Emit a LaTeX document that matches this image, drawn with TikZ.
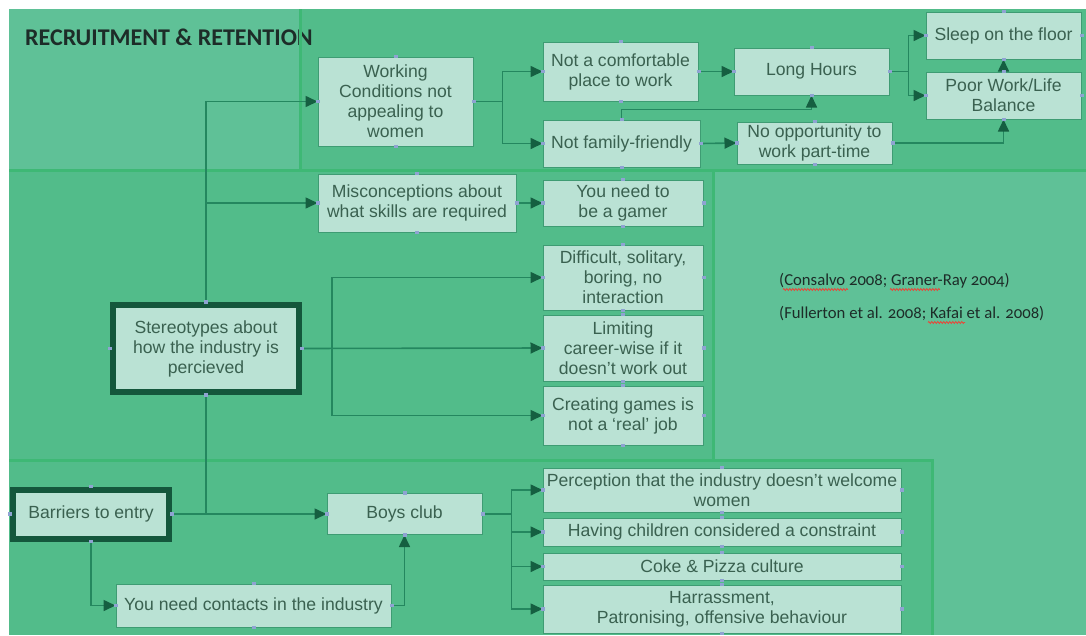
\documentclass[tikz,border=0pt]{standalone}
\usepackage{fontspec}
\setmainfont{Liberation Sans}
\newfontfamily\boxfont{Liberation Sans}
\newfontfamily\calfont[Numbers=OldStyle]{Carlito}
\usetikzlibrary{arrows.meta,decorations.pathmorphing,calc}

\definecolor{bglight}{HTML}{5FC197}
\definecolor{bgpanel}{HTML}{52BC8A}
\definecolor{panelline}{HTML}{3EB875}
\definecolor{boxfill}{HTML}{BAE2D4}
\definecolor{boxline}{HTML}{3E9C73}
\definecolor{boxtext}{HTML}{3A6150}
\definecolor{wirecol}{HTML}{24875F}
\definecolor{tipcol}{HTML}{155F41}
\definecolor{heavy}{HTML}{14573C}
\definecolor{handlecol}{HTML}{8FA3D2}
\definecolor{ink}{HTML}{1D2C28}
\definecolor{squigcol}{HTML}{E8473A}

\tikzset{
  box/.style={draw=boxline, fill=boxfill, line width=1pt, text=boxtext,
    align=center, font=\boxfont\fontsize{17.6}{20}\selectfont, inner sep=1pt},
  keybox/.style={box, draw=heavy, line width=6pt},
  link/.style={draw=wirecol, line width=1.6pt},
  arr/.style={link, -{Triangle[length=12pt,width=11pt,color=tipcol]}},
  handle/.style={fill=handlecol, inner sep=0pt, minimum width=4pt, minimum height=3.5pt},
  squig/.style={draw=squigcol, line width=0.8pt, decorate,
    decoration={zigzag, segment length=3pt, amplitude=1pt}},
  panelborder/.style={draw=panelline, line width=3pt},
  citation/.style={anchor=base west, font=\calfont\fontsize{16.7}{20}\selectfont,
    text=ink, inner sep=0pt}
}

\begin{document}
\begin{tikzpicture}[x=1pt, y=-1pt]
\useasboundingbox (0,0) rectangle (1086,635);

% background and panels
\fill[white] (0,0) rectangle (1086,635);
\fill[bglight] (9,9) rectangle (1086,635);
\fill[bgpanel] (300,9) rectangle (1086,170);
\fill[bgpanel] (9,170) rectangle (713,460);
\fill[bgpanel] (9,460) rectangle (932,635);

% heading
\node[anchor=base west, font=\calfont\bfseries\fontsize{24}{28}\selectfont,
  text=ink, inner sep=0pt] (title) at (25,45) {RECRUITMENT \& RETENTION};

\path[panelborder] (300,9) -- (300,170) (9,170) -- (1086,170)
  (713,170) -- (713,460) (9,460) -- (932,460) -- (932,635);

% working conditions
\node[box, minimum width=155pt, minimum height=89pt] (wc) at (395.5,101.5)
  {Working\\Conditions not\\appealing to\\women};
\node[box, minimum width=155pt, minimum height=59pt] (nc) at (620.5,71.5)
  {Not a comfortable\\place to work};
\node[box, minimum width=157pt, minimum height=47pt] (ff) at (621.5,143.5)
  {Not family-friendly};
\node[box, minimum width=155pt, minimum height=47pt] (lh) at (811.5,71.5)
  {Long Hours};
\node[box, minimum width=155pt, minimum height=47pt] (sl) at (1003.5,35.5)
  {Sleep on the floor};
\node[box, minimum width=155pt, minimum height=47pt] (pw) at (1003.5,95.5)
  {Poor Work/Life\\Balance};
\node[box, minimum width=155pt, minimum height=42pt] (no) at (814.5,143)
  {No opportunity to\\work part-time};

% stereotypes
\node[box, minimum width=198pt, minimum height=58pt] (mis) at (417,203)
  {Misconceptions about\\what skills are required};
\node[box, minimum width=160pt, minimum height=46pt] (gm) at (623,203)
  {You need to\\be a gamer};
\node[box, minimum width=160pt, minimum height=65pt] (di) at (623,277.5)
  {Difficult, solitary,\\boring, no\\interaction};
\node[box, minimum width=160pt, minimum height=66pt] (li) at (623,348)
  {Limiting\\career-wise if it\\doesn’t work out};
\node[box, minimum width=160pt, minimum height=59pt] (cr) at (623,415.5)
  {Creating games is\\not a ‘real’ job};
\node[keybox, minimum width=186pt, minimum height=87pt] (st) at (206,348.5)
  {Stereotypes about\\how the industry is\\percieved};

% barriers
\node[keybox, minimum width=156pt, minimum height=49pt] (bar) at (91,514)
  {Barriers to entry};
\node[box, minimum width=155pt, minimum height=41pt] (bc) at (404.5,514)
  {Boys club};
\node[box, minimum width=275pt, minimum height=43pt] (ct) at (253.5,605.5)
  {You need contacts in the industry};
\node[box, minimum width=358pt, minimum height=44pt] (pe) at (722,490)
  {Perception that the industry doesn’t welcome\\women};
\node[box, minimum width=358pt, minimum height=28pt] (hc) at (722,532)
  {Having children considered a constraint};
\node[box, minimum width=358pt, minimum height=27pt] (cp) at (722,566.5)
  {Coke \& Pizza culture};
\node[box, minimum width=358pt, minimum height=48pt] (ha) at (722,609)
  {Harrassment,\\Patronising, offensive behaviour};

% main trunk
\coordinate (tj) at (st.south |- bar.east);
\draw[link] (tj) -- (st.south);
\draw[arr] (st.north) |- (wc.west);
\draw[arr] (st.north |- mis.west) -- (mis.west);

% working conditions branches
\draw[arr] (wc.east) -- ++(29,0) |- (nc.west);
\draw[arr] (wc.east) ++(29,0) |- (ff.west);
\draw[arr] (nc.east) -- (lh.west);
\draw[arr] (ff.north) -- ++(0,-10) -| (lh.south);
\draw[arr] (ff.east) -- (no.west);
\draw[arr] (lh.east) -- ++(19,0) |- (sl.west);
\draw[arr] (lh.east) ++(19,0) |- (pw.west);
\draw[arr] (no.east) -| (pw.south);
\draw[arr] (pw.north) -- (sl.south);

% stereotype branches
\draw[arr] (mis.east) -- (gm.west);
\draw[arr] (st.east) -- (li.west);
\draw[arr] (st.east) ++(30,0) |- (di.west);
\draw[arr] (st.east) ++(30,0) |- (cr.west);

% barrier branches
\draw[arr] (bar.east) -- (bc.west);
\draw[arr] (bar.south) |- (ct.west);
\draw[arr] (ct.east) -| (bc.south);
\draw[arr] (bc.east) -- ++(29,0) |- (pe.west);
\draw[arr] (bc.east) ++(29,0) |- (hc.west);
\draw[arr] (bc.east) ++(29,0) |- (cp.west);
\draw[arr] (bc.east) ++(29,0) |- (ha.west);

% connection handles
\foreach \n in {wc,nc,ff,lh,sl,pw,no,mis,gm,di,li,cr,st,bar,bc,ct,pe,hc,cp,ha}
  \foreach \a in {north,south,east,west}
    \node[handle] at (\n.\a) {};

% references
\node[citation] (ref1) at (779,285) {(Consalvo 2008; Graner-Ray 2004)};
\node[citation] (ref2) at (779,318) {(Fullerton et al. 2008; Kafai et al. 2008)};
\draw[squig] (783,289.5) -- (848,289.5);
\draw[squig] (890,289.5) -- (940,289.5);
\draw[squig] (928,322.5) -- (965,322.5);
\end{tikzpicture}
\end{document}
